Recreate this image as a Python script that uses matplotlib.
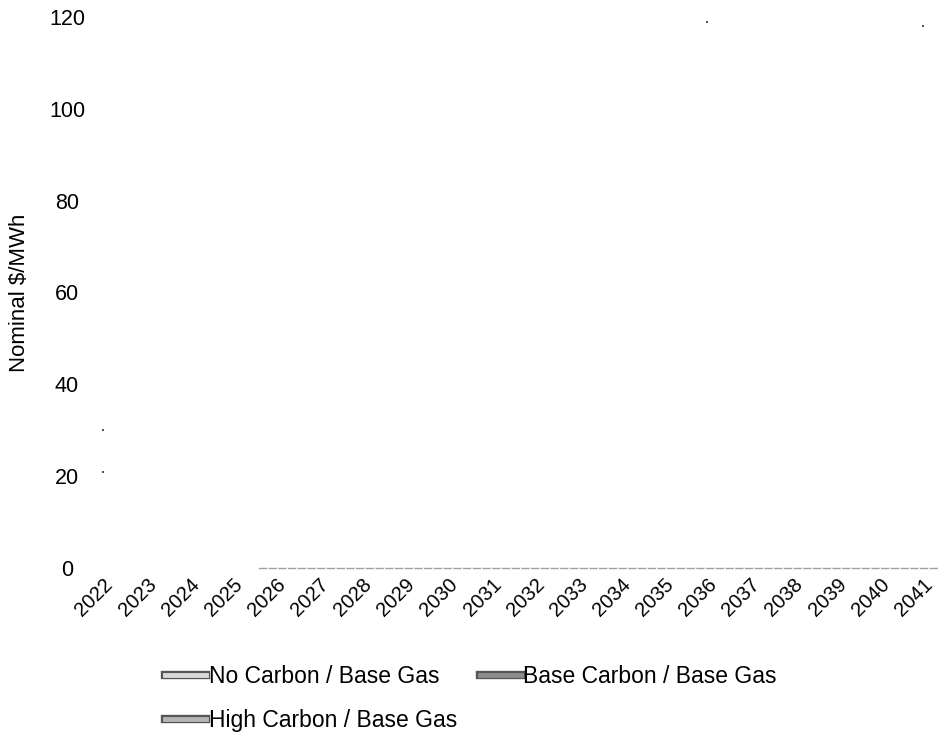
import numpy as np
import matplotlib
matplotlib.use("Agg")
import matplotlib.pyplot as plt
from matplotlib.lines import Line2D
import matplotlib.patheffects as pe

plt.rcParams['font.family'] = ['Liberation Sans', 'DejaVu Sans']

years = list(range(2022, 2042))
series_names = ["No Carbon / Base Gas", "Base Carbon / Base Gas", "High Carbon / Base Gas"]
nan = np.nan
# Only faint remnants of the series survive in the scanned reference
no_carbon = [21] + [nan] * 19
base_carbon = [30] + [nan] * 19
high_carbon = [nan] * 14 + [119] + [nan] * 4 + [118]
series_values = [no_carbon, base_carbon, high_carbon]
yticks = [0, 20, 40, 60, 80, 100, 120]
ylabel = "Nominal $/MWh"

fig = plt.figure(figsize=(9.38, 7.34), dpi=100)
ax = fig.add_axes([99/938, 1 - 568/734, (938-99)/938, (568-17)/734])

for vals in series_values:
    ax.plot(years, vals, linestyle='none', marker='s', markersize=1.8,
            color='#555555', markeredgewidth=0)

ax.set_xlim(2021.9, 2041.35)
ax.set_ylim(0, 120)
ax.set_yticks(yticks)
ax.set_xticks(years)
ax.set_xticklabels([str(y) for y in years], rotation=45, ha='right',
                   rotation_mode='anchor', fontsize=14.5)
ax.tick_params(axis='x', length=0, pad=5)
ax.tick_params(axis='y', length=0, pad=23, labelsize=15.5)
for lab in ax.get_yticklabels():
    lab.set_horizontalalignment('center')

for s in ['top', 'right', 'left']:
    ax.spines[s].set_visible(False)
ax.spines['bottom'].set_bounds(2025.6, 2041.35)
ax.spines['bottom'].set_color('#a0a0a0')
ax.spines['bottom'].set_linestyle((0, (5, 2)))
ax.spines['bottom'].set_linewidth(1.0)

ax.set_ylabel(ylabel, fontsize=16)
ax.yaxis.set_label_coords(-69/839, 0.5)

handle_colors = ['#d9d9d9', '#8c8c8c', '#b5b5b5']
handles = []
for c in handle_colors:
    h = Line2D([0], [0], color=c, lw=3.5,
               path_effects=[pe.Stroke(linewidth=6, foreground='#555555'), pe.Normal()])
    handles.append(h)

# row-major order: No Carbon, Base Carbon on row 1; High Carbon on row 2
order = [0, 2, 1]
fig.legend([handles[i] for i in order], [series_names[i] for i in order],
           loc='upper left',
           bbox_to_anchor=(156/938, 1 - 656/734), ncol=2, frameon=False,
           fontsize=16.5, handlelength=1.8, handletextpad=0.1,
           columnspacing=1.0, labelspacing=0.9, borderaxespad=0)

fig.savefig("out.png", dpi=100)
